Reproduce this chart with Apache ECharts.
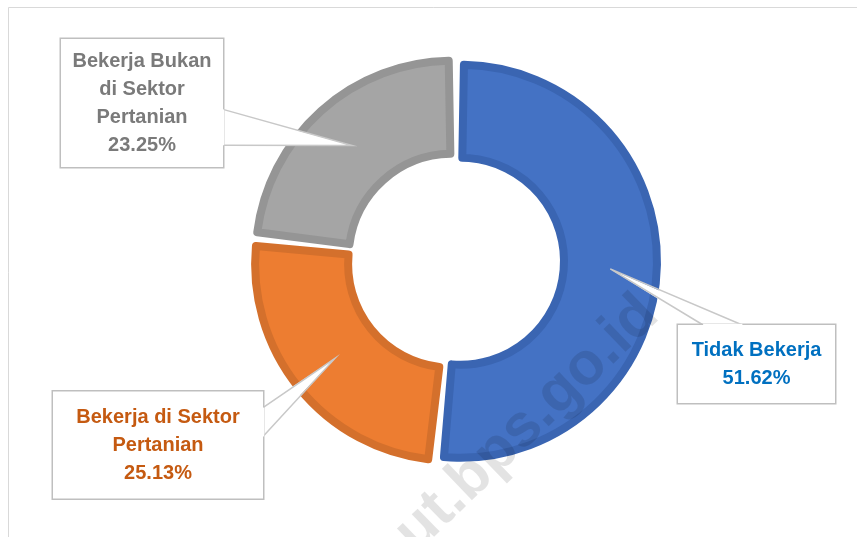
<!DOCTYPE html>
<html>
<head>
<meta charset="utf-8">
<script src="https://cdn.jsdelivr.net/npm/echarts@6/dist/echarts.min.js"></script>
<style>
  html, body { margin: 0; padding: 0; background: #fff; }
  #chart { width: 857px; height: 537px; }
</style>
</head>
<body>
<div id="chart"></div>
<script>
// data
var categories = ['Tidak Bekerja', 'Bekerja di Sektor Pertanian', 'Bekerja Bukan di Sektor Pertanian'];
var labelLines = ['Tidak Bekerja', 'Bekerja di Sektor\nPertanian', 'Bekerja Bukan\ndi Sektor\nPertanian'];
var values = [51.62, 25.13, 23.25];

var fillColors = ['#4472C4', '#ED7D31', '#A5A5A5'];
var edgeColors = ['#3A65B2', '#D4702C', '#959595'];
var textColors = ['#0070C0', '#C55A11', '#7A7A7A'];

// callout boxes: centre, size, and where the tail leaves the box
var boxes = [
  { cx: 756.5, cy: 364, w: 157, h: 78, side: 'top', a: 0.16, b: 0.41 },
  { cx: 158, cy: 445, w: 210, h: 107, side: 'right', a: 0.15, b: 0.42 },
  { cx: 142, cy: 103, w: 162, h: 128, side: 'right', a: 0.55, b: 0.83 }
];

var center = [455.5, 261];
var explode = 5;
var tipRadius = 150;
var tails = [];

var chart = echarts.init(document.getElementById('chart'));

// visible ring
var ringData = values.map(function (v, i) {
  return {
    name: categories[i],
    value: v,
    selected: true,
    itemStyle: { color: fillColors[i], borderColor: edgeColors[i] }
  };
});

// invisible copy that only carries the callout labels
var labelData = values.map(function (v, i) {
  var lines = labelLines[i].split('\n').length + 1;
  var padV = (boxes[i].h - lines * 28) / 2;
  return {
    name: categories[i],
    value: v,
    label: {
      color: textColors[i],
      width: boxes[i].w,
      padding: [padV, 0, padV, 0]
    }
  };
});

function edgePoint(box, t, inset) {
  inset = inset || 0;
  var left = box.cx - box.w / 2, top = box.cy - box.h / 2;
  if (box.side === 'top') return [left + box.w * t, top + inset];
  if (box.side === 'right') return [left + box.w - inset, top + box.h * t];
  return [left + inset, top + box.h * t];
}

var option = {
  animation: false,
  backgroundColor: '#fff',
  graphic: [
    {
      id: 'frame', type: 'rect', left: 6, top: 5, z: -10, silent: true,
      shape: { width: 900, height: 600 },
      style: { fill: 'none', stroke: '#D9D9D9', lineWidth: 1 }
    },
    {
      id: 'mark', type: 'text', x: 527, y: 424, rotation: 44 * Math.PI / 180, z: 100, silent: true,
      style: {
        text: 'ut.bps.go.id', fill: 'rgba(0,0,0,0.11)',
        font: 'bold 60px "Liberation Sans"', textAlign: 'center', textVerticalAlign: 'middle'
      }
    }
  ],
  series: [{
    type: 'pie',
    z: 2,
    center: center,
    radius: [103.5, 196.5],
    startAngle: 90,
    clockwise: true,
    selectedMode: 'multiple',
    selectedOffset: explode,
    padAngle: 2,
    silent: true,
    emphasis: { disabled: true },
    itemStyle: { borderWidth: 8 },
    label: { show: false },
    labelLine: { show: false },
    data: ringData
  }, {
    type: 'pie',
    z: 5,
    center: center,
    radius: [0, tipRadius],
    startAngle: 90,
    clockwise: true,
    silent: true,
    emphasis: { disabled: true },
    itemStyle: { color: 'rgba(0,0,0,0)', borderWidth: 0 },
    label: {
      show: true,
      position: 'outside',
      formatter: function (p) {
        return labelLines[p.dataIndex] + '\n' + p.value.toFixed(2) + '%';
      },
      fontFamily: '"Liberation Sans", Arial, sans-serif',
      fontWeight: 'bold',
      fontSize: 20,
      lineHeight: 28,
      align: 'center',
      backgroundColor: '#fff',
      borderColor: '#BFBFBF',
      borderWidth: 1.5
    },
    labelLine: {
      show: true,
      lineStyle: { color: '#C8C8C8', width: 1.5 }
    },
    labelLayout: function (params) {
      var box = boxes[params.dataIndex];
      var p0 = params.labelLinePoints ? params.labelLinePoints[0] : center;
      var dx = p0[0] - center[0], dy = p0[1] - center[1];
      var d = Math.sqrt(dx * dx + dy * dy) || 1;
      var r = tipRadius + explode;
      var tip = [center[0] + dx / d * r, center[1] + dy / d * r];
      tails[params.dataIndex] = { tip: tip, box: box };
      return {
        x: box.cx,
        y: box.cy,
        align: 'center',
        verticalAlign: 'middle',
        labelLinePoints: [edgePoint(box, box.a), tip, edgePoint(box, box.b)]
      };
    },
    data: labelData
  }]
};

chart.setOption(option);

// white inside of each callout tail, and the opening in the box border
var extra = [];
tails.forEach(function (t, i) {
  if (!t) return;
  extra.push({
    id: 'tail' + i, type: 'polygon', z: 4, silent: true,
    shape: { points: [edgePoint(t.box, t.box.a, 2), t.tip, edgePoint(t.box, t.box.b, 2)] },
    style: { fill: '#fff', stroke: null }
  });
  extra.push({
    id: 'gap' + i, type: 'line', z: 6, silent: true,
    shape: {
      x1: edgePoint(t.box, t.box.a)[0], y1: edgePoint(t.box, t.box.a)[1],
      x2: edgePoint(t.box, t.box.b)[0], y2: edgePoint(t.box, t.box.b)[1]
    },
    style: { stroke: '#fff', lineWidth: 2.5 }
  });
});
chart.setOption({ graphic: extra });
</script>
</body>
</html>
